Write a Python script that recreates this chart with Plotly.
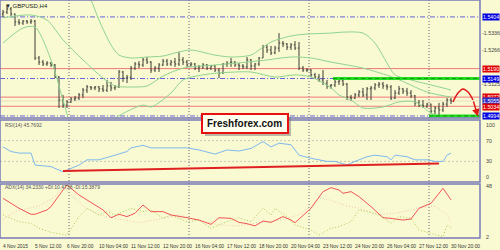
import plotly.graph_objects as go
import numpy as np

# ---------------- data ----------------
symbol_label = "GBPUSD,H4"
x_label_text = ["4 Nov 2015", "5 Nov 12:00", "6 Nov 20:00", "10 Nov 04:00", "11 Nov 12:00",
                "12 Nov 20:00", "16 Nov 04:00", "17 Nov 12:00", "18 Nov 20:00", "20 Nov 04:00",
                "23 Nov 12:00", "24 Nov 20:00", "26 Nov 04:00", "27 Nov 12:00", "30 Nov 20:00"]
x_label_bar = [0, 8, 16, 24, 32, 40, 48, 56, 64, 72, 80, 88, 96, 104, 112]
week_start_bar = [17, 47, 77, 107]

# OHLC in 1e-4 units (pips)
open_pips = [15416, 15424, 15437, 15416, 15383, 15379, 15387, 15383, 15387, 15234,
             15217, 15209, 15213, 15205, 15155, 15060, 15039, 15052, 15064, 15068,
             15081, 15101, 15114, 15110, 15114, 15106, 15101, 15118, 15110, 15114,
             15176, 15151, 15155, 15192, 15209, 15205, 15226, 15217, 15184, 15192,
             15205, 15221, 15209, 15217, 15209, 15226, 15217, 15205, 15209, 15192,
             15197, 15205, 15192, 15201, 15184, 15172, 15209, 15213, 15217, 15205,
             15201, 15197, 15226, 15201, 15209, 15234, 15279, 15267, 15255, 15275,
             15296, 15292, 15279, 15288, 15275, 15192, 15184, 15184, 15164, 15155,
             15143, 15130, 15118, 15122, 15135, 15139, 15126, 15072, 15068, 15081,
             15093, 15081, 15106, 15110, 15122, 15126, 15118, 15114, 15068, 15089,
             15106, 15097, 15089, 15077, 15048, 15039, 15035, 15043, 15014, 15027,
             15019, 15043, 15060]
high_pips = [15433, 15453, 15445, 15418, 15395, 15391, 15391, 15395, 15391, 15242,
             15226, 15221, 15217, 15209, 15159, 15081, 15060, 15072, 15077, 15089,
             15110, 15122, 15118, 15118, 15118, 15122, 15143, 15135, 15122, 15184,
             15180, 15164, 15201, 15217, 15221, 15234, 15238, 15221, 15201, 15213,
             15230, 15230, 15226, 15234, 15259, 15238, 15226, 15217, 15213, 15205,
             15213, 15209, 15205, 15205, 15192, 15213, 15221, 15234, 15221, 15213,
             15209, 15238, 15230, 15213, 15238, 15288, 15288, 15284, 15284, 15337,
             15304, 15296, 15296, 15304, 15300, 15201, 15192, 15188, 15172, 15168,
             15184, 15143, 15126, 15143, 15147, 15155, 15130, 15081, 15089, 15101,
             15110, 15114, 15118, 15130, 15135, 15135, 15126, 15122, 15101, 15118,
             15110, 15110, 15101, 15081, 15060, 15060, 15048, 15045, 15035, 15048,
             15052, 15068, 15068]
low_pips = [15404, 15416, 15408, 15366, 15371, 15371, 15375, 15375, 15226, 15205,
            15201, 15201, 15197, 15151, 15027, 15027, 15027, 15048, 15056, 15060,
            15068, 15089, 15101, 15101, 15093, 15093, 15093, 15097, 15101, 15110,
            15135, 15130, 15143, 15184, 15192, 15197, 15209, 15172, 15176, 15176,
            15201, 15201, 15201, 15197, 15201, 15205, 15197, 15197, 15184, 15176,
            15188, 15184, 15184, 15176, 15151, 15168, 15197, 15197, 15197, 15184,
            15188, 15188, 15184, 15184, 15201, 15234, 15255, 15246, 15250, 15259,
            15279, 15267, 15267, 15267, 15184, 15176, 15176, 15155, 15147, 15135,
            15122, 15106, 15106, 15114, 15122, 15118, 15060, 15056, 15064, 15072,
            15072, 15060, 15060, 15101, 15110, 15106, 15101, 15060, 15064, 15081,
            15085, 15077, 15068, 15035, 15031, 15027, 15027, 15002, 15002, 14990,
            15010, 15031, 15043]
close_pips = [15424, 15437, 15416, 15383, 15379, 15387, 15383, 15387, 15234, 15217,
              15209, 15213, 15205, 15155, 15060, 15039, 15052, 15064, 15068, 15081,
              15101, 15114, 15110, 15114, 15106, 15101, 15118, 15110, 15114, 15176,
              15151, 15155, 15192, 15209, 15205, 15226, 15217, 15184, 15192, 15205,
              15221, 15209, 15217, 15209, 15226, 15217, 15205, 15209, 15192, 15197,
              15205, 15192, 15201, 15184, 15172, 15209, 15213, 15217, 15205, 15201,
              15197, 15226, 15201, 15209, 15234, 15279, 15267, 15255, 15275, 15296,
              15292, 15279, 15288, 15275, 15192, 15184, 15184, 15164, 15155, 15143,
              15130, 15118, 15122, 15135, 15139, 15126, 15072, 15068, 15081, 15093,
              15081, 15106, 15110, 15122, 15126, 15118, 15114, 15068, 15089, 15106,
              15097, 15089, 15077, 15048, 15039, 15035, 15043, 15014, 15027, 15019,
              15043, 15060, 15056]

# Bollinger bands (read at sample bars, 1e-4 units)
bb_upper_bar = [20, 22, 24, 27, 29, 32, 36, 40, 44, 47, 53, 57, 62, 64, 67, 72, 76, 82, 85,
                90, 93, 96, 98, 102, 106, 110, 112]
bb_upper_pips = [15536, 15474, 15391, 15288, 15246, 15234, 15238, 15242, 15259, 15267, 15246,
                 15238, 15246, 15267, 15300, 15325, 15333, 15337, 15341, 15337, 15296, 15213,
                 15164, 15143, 15126, 15110, 15101]
bb_mid_bar = [0, 7, 11, 15, 20, 25, 28, 32, 36, 40, 45, 53, 61, 66, 72, 77, 82, 90, 98, 106, 112]
bb_mid_pips = [15400, 15412, 15391, 15309, 15226, 15151, 15118, 15114, 15118, 15159, 15192,
               15205, 15217, 15226, 15238, 15234, 15217, 15192, 15151, 15093, 15072]
bb_low_bar = [0, 5, 8, 12, 15, 17, 20, 24, 28, 35, 37, 42, 45, 50, 54, 62, 68, 73, 77, 82, 84,
              87, 90, 95, 99, 103, 107, 110, 112]
bb_low_pips = [15296, 15358, 15362, 15226, 15060, 14957, 14894, 14930, 14985, 15039, 15031,
               15089, 15143, 15164, 15172, 15176, 15155, 15164, 15155, 15110, 15081, 15060,
               15027, 15031, 15052, 15052, 15006, 14985, 14977]

# horizontal levels
blue_levels = [1.5404, 1.5149, 1.4994]
red_levels = [1.5190, 1.5072, 1.5034]
bid_level = 1.5056
green_levels = [1.5149, 1.4994]
green_start_bar = [82.5, 106.5]

# forecast arrow
forecast_bar = [112.5, 113.75, 115.0, 116.25, 117.5, 118.75]
forecast_price = [1.5052, 1.5089, 1.5106, 1.5093, 1.5060, 1.4992]

# right axis labels
boxed_labels = [("1.5404", 1.5404, "#0000E0"), ("1.5190", 1.5190, "#E00000"),
                ("1.5149", 1.5149, "#0000E0"), ("1.5072", 1.5072, "#E00000"),
                ("1.5055", 1.5057, "#3030C8"), ("1.5034", 1.5032, "#E00000"),
                ("1.4994", 1.4994, "#0000E0")]
plain_labels = [1.5336, 1.5266, 1.5125]

# RSI
rsi_bar = [0, 2, 4, 7, 8, 11, 12, 15, 16, 19, 21, 24, 28, 31, 32, 35, 37, 39, 42, 46, 49, 53,
           56, 59, 62, 65, 67, 69, 72, 74, 77, 81, 83, 86, 88, 91, 93, 96, 97, 98, 101, 103,
           106, 108, 110, 111, 112]
rsi_val = [58, 49, 46, 46, 23, 20, 20, 10, 13.5, 23, 33, 33, 42, 49, 56, 61, 56, 56, 56, 56,
           52, 44, 52, 50, 55, 68, 58, 65, 62, 42, 36, 30, 30, 23, 30, 39, 42, 39, 33, 42, 39,
           33, 33, 30, 30, 42, 45.8]
rsi_trend_bar = [15, 109]
rsi_trend_val = [11.5, 26]
rsi_levels = [70, 30]

# ADX
adx_bar = [0, 2, 4, 7, 8, 11, 12, 15, 16, 19, 21, 22, 25, 27, 29, 31, 33, 35, 37, 40, 42, 46,
           49, 52, 54, 57, 59, 61, 63, 65, 67, 70, 72, 73, 77, 80, 82, 84, 85, 87, 89, 92, 95,
           97, 100, 102, 104, 107, 110, 112]
adx_val = [36.9, 32.4, 27.9, 22.5, 22.5, 26.4, 29.4, 44.4, 48.9, 39.9, 35.4, 33.9, 26.4, 19.4,
           22.5, 20.4, 23.4, 30.9, 24.9, 24.9, 21.9, 19.4, 17.3, 13.4, 19.4, 18.8, 15.2, 14.0,
           12.0, 16.4, 15.2, 20.4, 17.3, 14.9, 27.9, 42.9, 46.5, 44.4, 41.4, 42.9, 38.4, 29.4,
           19.4, 18.8, 17.3, 18.2, 27.9, 32.4, 45.9, 35.5]
pdi_bar = [0, 2, 4, 7, 9, 12, 16, 19, 21, 24, 26, 28, 32, 35, 37, 40, 42, 46, 49, 52, 56, 59,
           62, 65, 67, 68, 71, 73, 77, 79, 82, 84, 87, 89, 91, 94, 97, 99, 102, 104, 107, 110,
           111, 112]
pdi_val = [21.9, 18.8, 15.8, 14.3, 9.8, 6.2, 3.8, 20.4, 27.9, 21.9, 24.9, 21.9, 27.9, 24.9,
           26.4, 18.8, 21.9, 15.8, 17.3, 9.8, 15.8, 19.4, 15.8, 27.9, 21.9, 27.9, 20.4, 12.8,
           8.3, 3.8, 9.8, 11.3, 15.8, 26.4, 24.9, 21.9, 14.3, 20.4, 18.8, 8.3, 5.3, 2.3, 12.8,
           10.5]
mdi_bar = [0, 3, 9, 13, 15, 17, 20, 24, 29, 34, 39, 44, 49, 54, 59, 64, 69, 74, 77, 79, 82,
           86, 89, 94, 99, 104, 108, 111, 112]
mdi_val = [18, 25, 30, 38, 47, 40, 30, 22, 18, 15, 18, 22, 17, 13, 12, 15, 17, 22, 30, 38, 35,
           30, 28, 22, 24, 28, 30, 22, 15.4]

rsi_title = "RSI(14) 45.7692"
adx_title = "ADX(14) 34.2330 +DI:10.4738 -DI:15.3879"
logo_text = "Freshforex.com"

# ---------------- styling / geometry ----------------
BG = "#FAFAD2"
PW, PH = 480, 238  # plot area pixels
FONT = "Liberation Sans"


def px_x(p):
    return p / PW


def px_y(p):
    return 1 - p / PH


x_min, x_max = -0.75, 119.25
price_rng = [1.49855, 1.5474]
rsi_rng = [-9.6, 109.6]
adx_rng = [1.1, 49.8]

dom_price = [px_y(118), 1]
dom_rsi = [px_y(182), px_y(120)]
dom_adx = [0, px_y(184)]

to_price = lambda a: np.array(a) / 10000.0

fig = go.Figure()

band_col = "#8ED48E"
for bx, by in [(bb_upper_bar, bb_upper_pips), (bb_mid_bar, bb_mid_pips), (bb_low_bar, bb_low_pips)]:
    fig.add_trace(go.Scatter(x=bx, y=to_price(by), mode="lines",
                             line=dict(color=band_col, width=1, shape="spline", smoothing=0.8),
                             xaxis="x", yaxis="y", hoverinfo="skip"))

bars = list(range(len(close_pips)))
fig.add_trace(go.Ohlc(x=bars, open=to_price(open_pips), high=to_price(high_pips),
                      low=to_price(low_pips), close=to_price(close_pips),
                      increasing=dict(line=dict(color="#3C3C34", width=1)),
                      decreasing=dict(line=dict(color="#3C3C34", width=1)),
                      tickwidth=0.3, xaxis="x", yaxis="y", hoverinfo="skip"))

for lvl, st in zip(green_levels, green_start_bar):
    fig.add_trace(go.Scatter(x=[st, x_max], y=[lvl, lvl], mode="lines",
                             line=dict(color="#22DD22", width=3), xaxis="x", yaxis="y",
                             hoverinfo="skip"))
    fig.add_trace(go.Scatter(x=[st, x_max], y=[lvl, lvl], mode="lines",
                             line=dict(color="#119911", width=1, dash="4px,3px"), xaxis="x",
                             yaxis="y", hoverinfo="skip"))

fig.add_trace(go.Scatter(x=forecast_bar[:-1], y=forecast_price[:-1], mode="lines",
                         line=dict(color="#E01818", width=1.5, shape="spline"),
                         xaxis="x", yaxis="y", hoverinfo="skip"))

# RSI
fig.add_trace(go.Scatter(x=rsi_bar, y=rsi_val, mode="lines",
                         line=dict(color="#7DB9EE", width=1), xaxis="x", yaxis="y2",
                         hoverinfo="skip"))
fig.add_trace(go.Scatter(x=rsi_trend_bar, y=rsi_trend_val, mode="lines",
                         line=dict(color="#E02020", width=2), xaxis="x", yaxis="y2",
                         hoverinfo="skip"))

# ADX
fig.add_trace(go.Scatter(x=mdi_bar, y=mdi_val, mode="lines",
                         line=dict(color="#F2C4B0", width=1, dash="1px,2px"), xaxis="x",
                         yaxis="y3", hoverinfo="skip"))
fig.add_trace(go.Scatter(x=pdi_bar, y=pdi_val, mode="lines",
                         line=dict(color="#A8CC55", width=1, dash="1px,2px"), xaxis="x",
                         yaxis="y3", hoverinfo="skip"))
fig.add_trace(go.Scatter(x=adx_bar, y=adx_val, mode="lines",
                         line=dict(color="#F05555", width=1), xaxis="x", yaxis="y3",
                         hoverinfo="skip"))

shapes = []
# vertical week separators
for b in week_start_bar:
    shapes.append(dict(type="line", xref="x", yref="paper", x0=b - 0.5, x1=b - 0.5, y0=0, y1=1,
                       line=dict(color="#666677", width=1, dash="1px,2px"), layer="below"))
# price levels
for lvl in blue_levels:
    shapes.append(dict(type="line", xref="paper", yref="y", x0=0, x1=1, y0=lvl, y1=lvl,
                       line=dict(color="#6464DC", width=1, dash="5px,2px,1px,2px"), layer="below"))
shapes.append(dict(type="line", xref="paper", yref="y", x0=0, x1=1, y0=bid_level, y1=bid_level,
                   line=dict(color="#E6DEC0", width=1), layer="below"))
for lvl in red_levels:
    shapes.append(dict(type="line", xref="paper", yref="y", x0=0, x1=1, y0=lvl, y1=lvl,
                       line=dict(color="#F07878", width=1), layer="below"))
for lvl in rsi_levels:
    shapes.append(dict(type="line", xref="paper", yref="y2", x0=0, x1=1, y0=lvl, y1=lvl,
                       line=dict(color="#C8C8BC", width=1, dash="2px,2px"), layer="below"))
# panel frames
frame = "#7A7AB6"
for d in [dom_price, dom_rsi, dom_adx]:
    shapes.append(dict(type="rect", xref="paper", yref="paper", x0=0, x1=1, y0=d[0], y1=d[1],
                       line=dict(color=frame, width=1.5), fillcolor="rgba(0,0,0,0)", layer="above"))
# logo
shapes.append(dict(type="rect", xref="paper", yref="paper", x0=px_x(205), x1=px_x(291),
                   y0=px_y(136), y1=px_y(117), line=dict(width=0), fillcolor="rgba(120,120,120,0.5)",
                   layer="above"))
shapes.append(dict(type="rect", xref="paper", yref="paper", x0=px_x(202), x1=px_x(288),
                   y0=px_y(133), y1=px_y(114), line=dict(color="#E81010", width=2),
                   fillcolor="#FFFFF0", layer="above"))

ann = []
tiny = dict(family=FONT, size=4.9, color="#333333")
for t, b in zip(x_label_text, x_label_bar):
    ann.append(dict(x=b - 0.5, y=px_y(246), xref="x", yref="paper", text=t, showarrow=False,
                    xanchor="left", yanchor="middle", font=tiny))
for v in plain_labels:
    ann.append(dict(x=1, y=v, xref="paper", yref="y", text="-" + f"{v:.4f}", showarrow=False,
                    xanchor="left", yanchor="middle", xshift=0,
                    font=dict(family=FONT, size=5.3, color="#444444")))
for t, v, c in boxed_labels:
    ann.append(dict(x=1, y=v, xref="paper", yref="y", text=t, showarrow=False, xanchor="left",
                    yanchor="middle", xshift=2, bgcolor=c, borderpad=0,
                    font=dict(family=FONT, size=5.3, color="#FFFFFF")))
for t, v in [("100", 100), ("70", 70), ("30", 30), ("0", 0)]:
    ann.append(dict(x=1, y=v, xref="paper", yref="y2", text=t, showarrow=False, xanchor="left",
                    yanchor="middle", xshift=4, font=dict(family=FONT, size=5.3, color="#444444")))
for t, v in [("48", 48), ("2", 2)]:
    ann.append(dict(x=1, y=v, xref="paper", yref="y3", text=t, showarrow=False, xanchor="left",
                    yanchor="middle", xshift=4, font=dict(family=FONT, size=5.3, color="#444444")))
ann.append(dict(x=px_x(3), y=px_y(5.5), xref="paper", yref="paper", text="▼ " + symbol_label,
                showarrow=False, xanchor="left", yanchor="middle",
                font=dict(family=FONT, size=6, color="#222222")))
ann.append(dict(x=px_x(3), y=px_y(125), xref="paper", yref="paper", text=rsi_title,
                showarrow=False, xanchor="left", yanchor="middle",
                font=dict(family=FONT, size=5, color="#555555")))
ann.append(dict(x=px_x(3), y=px_y(187), xref="paper", yref="paper", text=adx_title,
                showarrow=False, xanchor="left", yanchor="middle",
                font=dict(family=FONT, size=5, color="#555555")))
ann.append(dict(x=px_x(245), y=px_y(123.5), xref="paper", yref="paper", text="<b>" + logo_text + "</b>",
                showarrow=False, xanchor="center", yanchor="middle",
                font=dict(family=FONT, size=10, color="#111111")))
# forecast arrow head
ann.append(dict(x=forecast_bar[-1], y=forecast_price[-1], ax=forecast_bar[-2], ay=forecast_price[-2],
                xref="x", yref="y", axref="x", ayref="y", text="", showarrow=True,
                arrowhead=2, arrowsize=1, arrowwidth=1.5, arrowcolor="#E01818"))

ax_common = dict(showgrid=False, zeroline=False, showticklabels=False, ticks="", showline=False,
                 fixedrange=True)
fig.update_layout(
    width=500, height=250, margin=dict(l=0, r=20, t=0, b=12),
    paper_bgcolor=BG, plot_bgcolor=BG, showlegend=False,
    xaxis=dict(range=[x_min, x_max], anchor="y3", rangeslider=dict(visible=False), **ax_common),
    yaxis=dict(domain=dom_price, range=price_rng, anchor="x", **ax_common),
    yaxis2=dict(domain=dom_rsi, range=rsi_rng, anchor="x", **ax_common),
    yaxis3=dict(domain=dom_adx, range=adx_rng, anchor="x", **ax_common),
    shapes=shapes, annotations=ann, hovermode=False,
)

fig.write_html("out.html", config={"displayModeBar": False})
